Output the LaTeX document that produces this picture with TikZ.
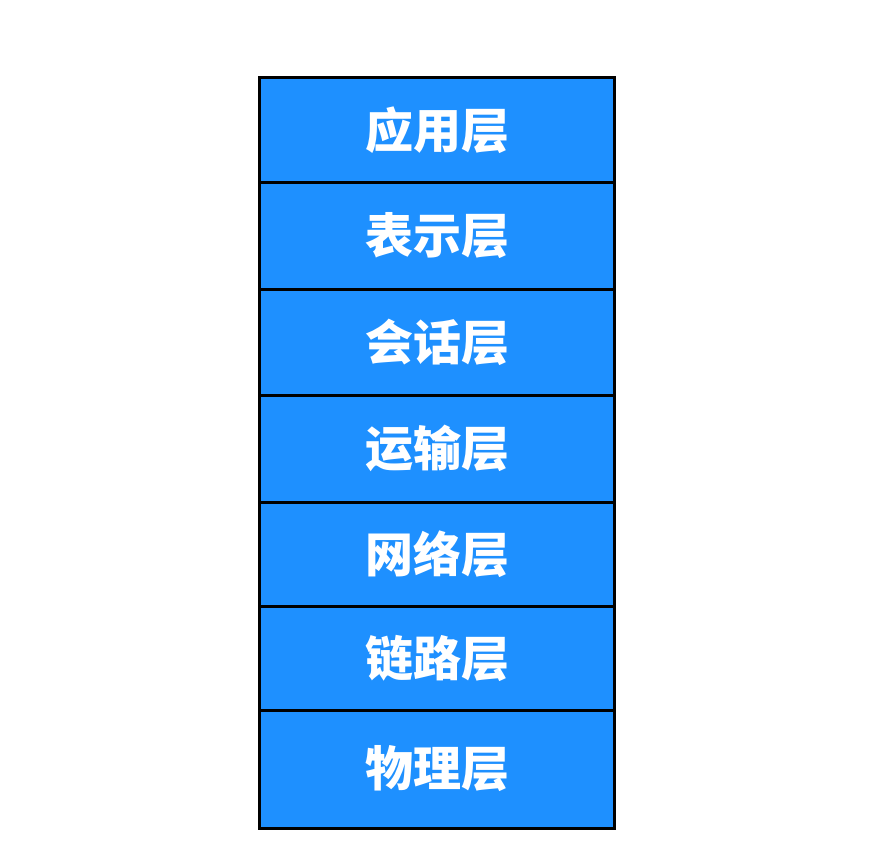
\documentclass[tikz,border=0pt]{standalone}
\usepackage{fontspec}
\newfontfamily\cjk{Noto Sans CJK SC}
\definecolor{layerblue}{HTML}{1E90FF}

\begin{document}
\begin{tikzpicture}[x=1pt,y=-1pt,
    layer/.style={draw=black, line width=3pt, fill=layerblue, text=white,
      minimum width=354.7pt, inner sep=0pt, outer sep=0pt,
      font=\cjk\bfseries\fontsize{48}{52}\selectfont}]
  % Page frame
  \useasboundingbox (0,0) rectangle (870,860);

  % Layer stack (top/bottom of each box)
  \foreach \name/\top/\bot/\txt in {app/77/182.5/应用层, pres/182.5/289/表示层,
      sess/289/395.5/会话层, trans/395.5/502/运输层, net/502/606/网络层,
      link/606/710/链路层, phys/710/828/物理层} {
      \node[layer, minimum height={\bot-\top}] (\name) at (437.3,{(\top+\bot)/2}) {\raisebox{3pt}{\txt}};
    }

\end{tikzpicture}
\end{document}
